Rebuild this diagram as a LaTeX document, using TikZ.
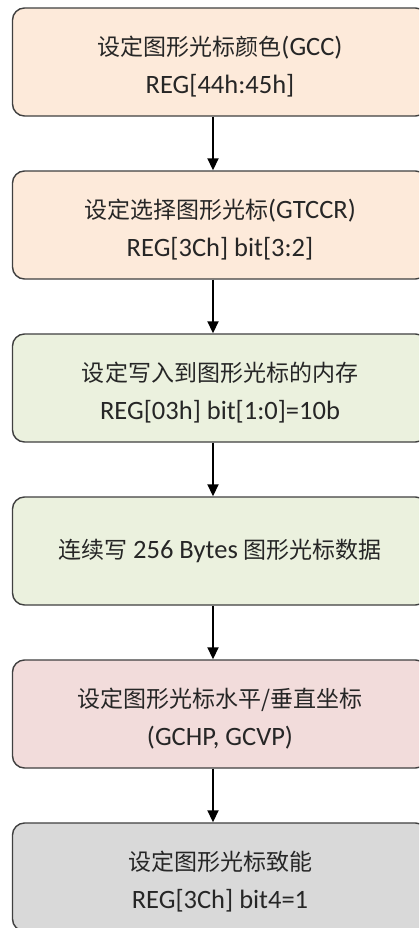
\documentclass[tikz,border=0pt]{standalone}
\usepackage{fontspec}
\setmainfont{Carlito}
\newfontfamily\cjk{Noto Sans CJK SC}
\newcommand\zh[1]{{\cjk\fontsize{23bp}{38bp}\selectfont #1}}
\newcommand\lowr{\rule{0pt}{29bp}}
\usetikzlibrary{arrows.meta}
\definecolor{peach}{HTML}{FDEADA}
\definecolor{lgreen}{HTML}{EBF1DE}
\definecolor{lpink}{HTML}{F2DCDB}
\definecolor{lgray}{HTML}{D9D9D9}
\definecolor{edge}{HTML}{404040}
\definecolor{txt}{HTML}{262626}
\begin{document}
\begin{tikzpicture}[x=1bp,y=-1bp,
  stepbox/.style={draw=edge, line width=1.4bp, rounded corners=12bp,
    minimum width=415bp, minimum height=108bp, align=center,
    text=txt, font=\fontsize{26.5bp}{38bp}\selectfont, inner sep=0pt},
  flow/.style={line width=1.8bp, -{Triangle[width=11bp,length=12bp]}}]
\useasboundingbox (0,0) rectangle (419,928);
\clip (0,0) rectangle (419,928);
\fill[white] (0,0) rectangle (419,928);
\coordinate (ax) at (213,0);
\node[stepbox, fill=peach] (b1) at (220,62) {\lowr\zh{设定图形光标颜色}(GCC)\\REG[44h:45h]};
\node[stepbox, fill=peach] (b2) at (220,225) {\lowr\zh{设定选择图形光标}(GTCCR)\\REG[3Ch] bit[3:2]};
\node[stepbox, fill=lgreen] (b3) at (220,388) {\lowr\zh{设定写入到图形光标的内存}\\REG[03h] bit[1:0]=10b};
\node[stepbox, fill=lgreen] (b4) at (220,551) {\zh{连续写} 256 Bytes \zh{图形光标数据}};
\node[stepbox, fill=lpink] (b5) at (220,714) {\lowr\zh{设定图形光标水平/垂直坐标}\\(GCHP, GCVP)};
\node[stepbox, fill=lgray] (b6) at (220,877) {\lowr\zh{设定图形光标致能}\\REG[3Ch] bit4=1};
\draw[flow] (b1.south -| ax) -- (b2.north -| ax);
\draw[flow] (b2.south -| ax) -- (b3.north -| ax);
\draw[flow] (b3.south -| ax) -- (b4.north -| ax);
\draw[flow] (b4.south -| ax) -- (b5.north -| ax);
\draw[flow] (b5.south -| ax) -- (b6.north -| ax);
\end{tikzpicture}
\end{document}
